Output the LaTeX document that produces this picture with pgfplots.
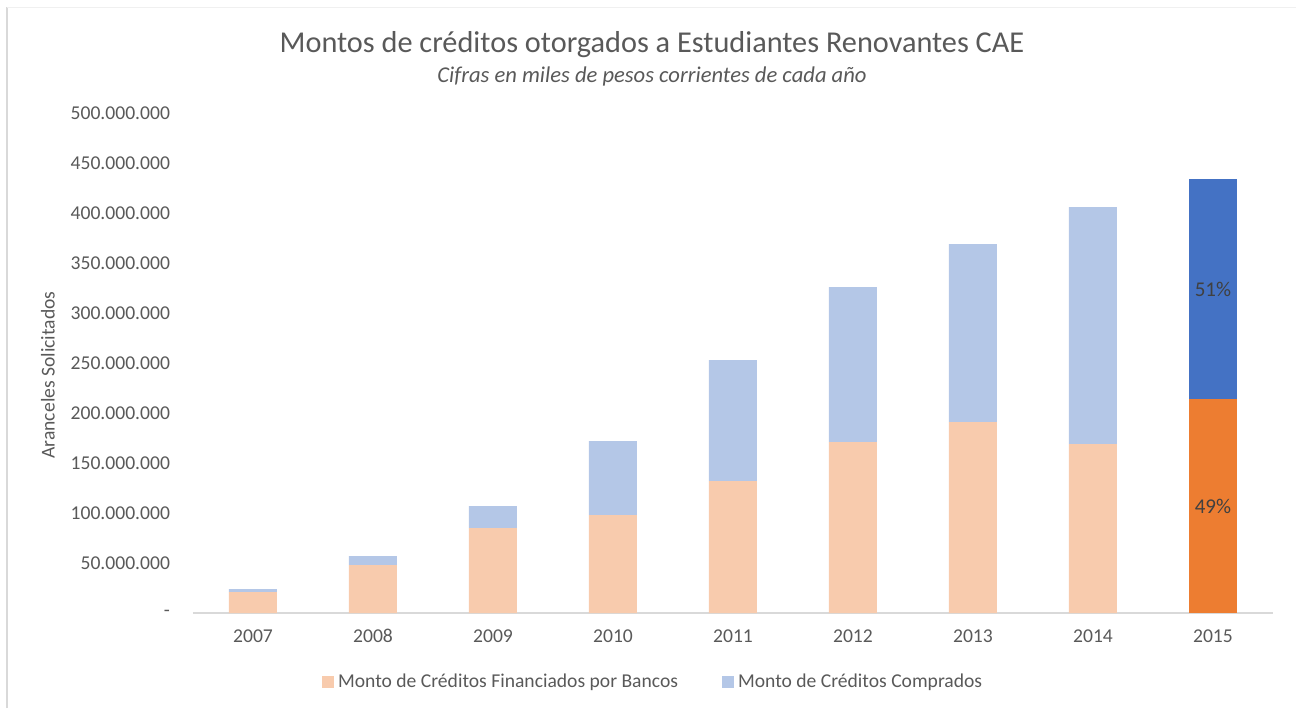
\documentclass[border=0pt]{standalone}
\usepackage{fontspec}
\setmainfont{Carlito}
\usepackage{pgfplots}
\pgfplotsset{compat=1.18}

\definecolor{bancoL}{HTML}{F8CBAD}
\definecolor{banco}{HTML}{ED7D31}
\definecolor{compL}{HTML}{B4C7E7}
\definecolor{comp}{HTML}{4472C4}
\definecolor{txt}{HTML}{595959}
\definecolor{axisgray}{HTML}{D9D9D9}

% montos en millones (miles de pesos)
\pgfplotstableread{
x bancosL bancos compradosL comprados
0 21 0 3 0
1 48 0 9 0
2 85 0 22 0
3 98 0 74 0
4 132 0 121 0
5 171 0 155 0
6 191 0 178 0
7 169 0 237 0
8 0 214 0 220
}\datos

\begin{document}
\begin{tikzpicture}
\path[use as bounding box] (-96.5pt,-47.5pt) rectangle (551.5pt,306.5pt);
\draw[axisgray, line width=1pt] (-93pt,-47.5pt) -- (-93pt,303pt);
\draw[axisgray!40, line width=0.4pt] (-93pt,303pt) -- (551.5pt,303pt);
\begin{axis}[
    at={(0,0)}, anchor=south west,
    scale only axis,
    width=540pt, height=250pt,
    ybar stacked,
    bar width=24pt,
    xmin=-0.5, xmax=8.5,
    ymin=0, ymax=500,
    xtick={0,...,8},
    xticklabels={2007,2008,2009,2010,2011,2012,2013,2014,2015},
    ytick={0,50,...,500},
    yticklabels={-,50.000.000,100.000.000,150.000.000,200.000.000,250.000.000,300.000.000,350.000.000,400.000.000,450.000.000,500.000.000},
    major tick length=0pt,
    axis lines*=left,
    x axis line style={draw=axisgray, line width=0.6pt, -},
    y axis line style={draw=none},
    ticklabel style={font=\fontsize{9.8}{11}\selectfont, text=txt},
    xticklabel style={yshift=-4pt, text height=7pt, text depth=0pt},
    yticklabel style={xshift=-8pt},
    legend style={draw=none, fill=none, at={(axis description cs:0.427,-0.138)}, anchor=center,
        legend columns=2, font=\fontsize{9.8}{11}\selectfont, text=txt,
        /tikz/every even column/.append style={column sep=20pt}},
    legend image code/.code={\fill[#1] (0pt,-3pt) rectangle (6pt,3pt);},
]
\addplot[fill=bancoL, draw=none] table[x=x, y=bancosL] {\datos};
\addlegendentry{Monto de Créditos Financiados por Bancos}
\addplot[fill=banco, draw=none, forget plot] table[x=x, y=bancos] {\datos};
\addplot[fill=compL, draw=none] table[x=x, y=compradosL] {\datos};
\addlegendentry{Monto de Créditos Comprados}
\addplot[fill=comp, draw=none, forget plot] table[x=x, y=comprados] {\datos};
\coordinate (p49) at (axis cs:8,107);
\coordinate (p51) at (axis cs:8,324);
\end{axis}
\node[text=black!75, font=\fontsize{10.5}{12}\selectfont] at (p49) {49\%};
\node[text=black!75, font=\fontsize{10.5}{12}\selectfont] at (p51) {51\%};
\node[rotate=90, text=txt, font=\fontsize{9.8}{11}\selectfont] at (-72.5pt,119pt) {Aranceles Solicitados};
\node[text=txt, font=\fontsize{15.15}{18}\selectfont] at (229.5pt,284pt) {Montos de créditos otorgados a Estudiantes Renovantes CAE};
\node[text=txt, font=\fontsize{11.3}{13}\selectfont\itshape] at (229.5pt,268.5pt) {Cifras en miles de pesos corrientes de cada año};
\end{tikzpicture}
\end{document}
